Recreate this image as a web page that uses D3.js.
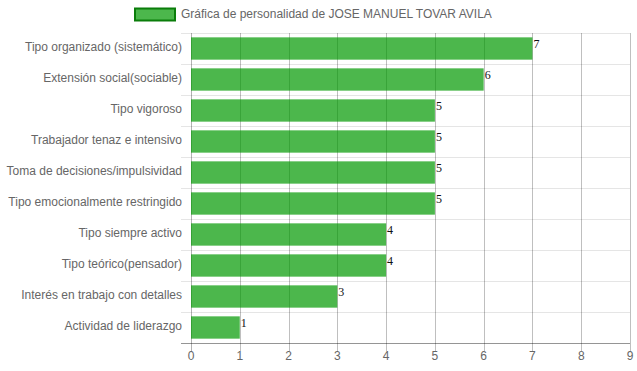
<!DOCTYPE html>
<html><head><meta charset="utf-8">
<script src="https://cdn.jsdelivr.net/npm/d3@7"></script>
<style>body{margin:0;background:#fff}svg{display:block}</style>
</head><body><svg id="c" width="637" height="371"></svg>
<script>
const categories = ["Tipo organizado (sistemático)","Extensión social(sociable)","Tipo vigoroso","Trabajador tenaz e intensivo","Toma de decisiones/impulsividad","Tipo emocionalmente restringido","Tipo siempre activo","Tipo teórico(pensador)","Interés en trabajo con detalles","Actividad de liderazgo"];
const values = [7,6,5,5,5,5,4,4,3,1];
const xTicks = [0,1,2,3,4,5,6,7,8,9];
const legendLabel = "Gráfica de personalidad de JOSE MANUEL TOVAR AVILA";

const svg = d3.select("#c");
const font = "'Liberation Sans', Arial, Helvetica, sans-serif";
const L = 191, R = 630, T = 33, B = 343;
const x = d3.scaleLinear().domain([0,9]).range([L,R]);
const y = d3.scaleBand().domain(categories).range([T,B]);

// horizontal gridlines (category boundaries)
const hLines = d3.range(categories.length+1).map(i => T + i*y.step());
svg.append("g").selectAll("line").data(hLines).join("line")
  .attr("x1", L-10).attr("x2", R).attr("y1", d=>d+0.5).attr("y2", d=>d+0.5)
  .attr("stroke", "rgba(0,0,0,0.1)");

// vertical gridlines
svg.append("g").selectAll("line").data(xTicks).join("line")
  .attr("x1", d=>Math.round(x(d))+0.5).attr("x2", d=>Math.round(x(d))+0.5)
  .attr("y1", T).attr("y2", B+8)
  .attr("stroke", d => (d===0) ? "rgba(0,0,0,0.3)" : "rgba(0,0,0,0.25)");

// x axis line
svg.append("line").attr("x1", L-10).attr("x2", R).attr("y1", B+0.5).attr("y2", B+0.5)
  .attr("stroke", "rgba(0,0,0,0.35)");

// bars
const bh = y.bandwidth()*0.72;
svg.append("g").selectAll("rect").data(values).join("rect")
  .attr("x", x(0)).attr("y", (d,i)=> y(categories[i]) + (y.bandwidth()-bh)/2)
  .attr("width", d=> x(d)-x(0)).attr("height", bh)
  .attr("fill", "rgba(0,153,0,0.7)");

// value labels
svg.append("g").selectAll("text").data(values).join("text")
  .attr("x", d=> x(d)+1).attr("y", (d,i)=> y(categories[i]) + y.bandwidth()/2 - 0.5)
  .attr("font-family", "'Liberation Serif', 'Times New Roman', serif").attr("font-size", 12)
  .attr("fill", "#111").text(d=>d);

// y labels
svg.append("g").selectAll("text").data(categories).join("text")
  .attr("x", 182).attr("y", d=> y(d)+y.bandwidth()/2 - 1.5).attr("dy","0.35em")
  .attr("text-anchor","end").attr("font-family", font).attr("font-size", 12)
  .attr("fill","#666").text(d=>d);

// x tick labels
svg.append("g").selectAll("text").data(xTicks).join("text")
  .attr("x", d=> x(d)).attr("y", 356).attr("dy","0.35em")
  .attr("text-anchor","middle").attr("font-family", font).attr("font-size", 12)
  .attr("fill","#666").text(d=>d);

// legend
svg.append("rect").attr("x",135).attr("y",8.5).attr("width",40).attr("height",12)
  .attr("fill","rgba(0,153,0,0.7)").attr("stroke","#0a7d0a").attr("stroke-width",2);
svg.append("text").attr("x",181).attr("y",14).attr("dy","0.35em")
  .attr("font-family", font).attr("font-size",12).attr("fill","#666").text(legendLabel);
</script></body></html>
